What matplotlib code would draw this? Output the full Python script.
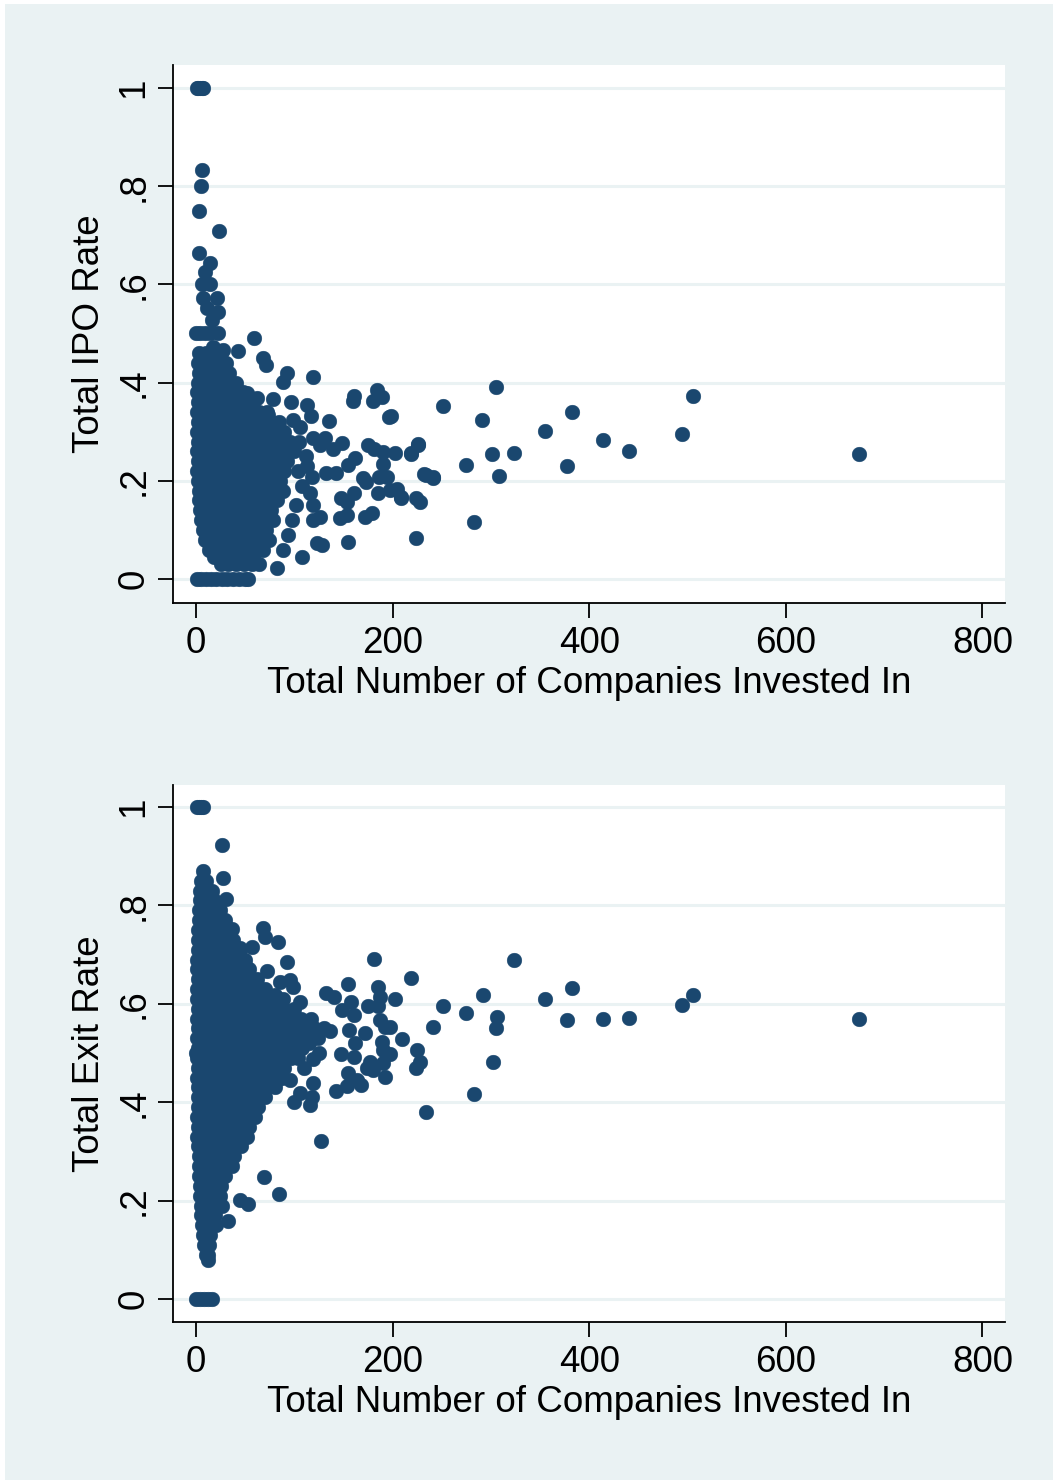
import numpy as np
import matplotlib
matplotlib.use("Agg")
import matplotlib.pyplot as plt
from matplotlib.patches import Rectangle

plt.rcParams['font.family'] = ['Liberation Sans', 'DejaVu Sans']

# ------------------------------
# data
# ------------------------------
# dense core of the IPO panel: (rate, [companies, ...])
ipo_rows = [
    (1.0, [1, 2, 4, 6, 7]),
    (0.5, [0, 4, 9, 14, 22]),
    (0.46, [3, 10, 18, 25]),
    (0.44, [2, 9, 16, 24, 31]),
    (0.42, [3, 10, 18, 26, 34]),
    (0.40, [2, 9, 16, 24, 33, 41]),
    (0.38, [1, 8, 15, 23, 31, 40, 48]),
    (0.36, [2, 9, 17, 25, 33, 41, 50, 58]),
    (0.34, [1, 8, 15, 22, 30, 38, 46, 55, 64, 72]),
    (0.32, [2, 9, 16, 24, 32, 40, 48, 57, 66, 75, 84]),
    (0.30, [1, 8, 15, 23, 31, 39, 47, 55, 63, 72, 81, 90]),
    (0.28, [2, 9, 17, 25, 33, 41, 49, 58, 67, 76, 86, 96]),
    (0.26, [1, 8, 15, 22, 30, 38, 46, 54, 62, 71, 80, 89]),
    (0.24, [2, 9, 16, 24, 32, 40, 48, 56, 65, 74, 83, 93]),
    (0.22, [1, 8, 15, 23, 31, 39, 47, 55, 63, 72, 81, 90]),
    (0.20, [2, 9, 17, 25, 33, 41, 49, 57, 66, 75, 85]),
    (0.18, [3, 10, 18, 26, 34, 42, 50, 58, 67, 76, 88]),
    (0.16, [3, 10, 17, 24, 32, 40, 48, 56, 64, 73, 82]),
    (0.14, [4, 11, 19, 27, 35, 43, 51, 59, 67, 76]),
    (0.12, [5, 12, 20, 28, 36, 44, 52, 60, 69, 78]),
    (0.10, [7, 14, 22, 30, 38, 46, 54, 62, 71]),
    (0.08, [9, 16, 24, 32, 40, 48, 56, 64, 74]),
    (0.06, [13, 20, 28, 36, 44, 52, 60, 68]),
    (0.045, [18, 26, 34, 42, 50, 58]),
    (0.03, [25, 33, 41, 49, 57, 64]),
    (0.0, [1, 5, 10, 15, 20, 26, 32, 38, 44, 50, 53]),
]

# scattered points of the IPO panel: (companies, rate)
ipo_pts = [
    (6, .833), (5, .800), (3, .749), (23, .709), (3, .664), (14, .644), (9, .625),
    (6, .601), (14, .601), (7, .572), (21, .572), (11, .552), (22, .544), (16, .527),
    (59, .491), (17, .473), (27, .466), (43, .464), (68, .450), (71, .436), (93, .420),
    (88, .401), (119, .411), (62, .369), (78, .367), (97, .360), (113, .354), (117, .332),
    (135, .322), (161, .373), (160, .363), (184, .385), (189, .371), (180, .363), (196, .330),
    (175, .273), (181, .265), (190, .259), (202, .257), (219, .255), (226, .275), (190, .234),
    (170, .206), (173, .198), (186, .208), (194, .208), (185, .175), (197, .181), (204, .183),
    (209, .165), (224, .165), (228, .157), (232, .214), (241, .206), (147, .165), (154, .157),
    (161, .175), (146, .124), (154, .130), (172, .126), (179, .134), (155, .075), (123, .073),
    (128, .069), (108, .045), (119, .120), (126, .126), (132, .216), (142, .216), (155, .232),
    (162, .246), (139, .265), (149, .277), (118, .208), (113, .230), (119, .287), (131, .287),
    (126, .273), (99, .324), (106, .310), (116, .175), (119, .151), (98, .120), (82, .022),
    (32, .389), (42, .381), (52, .379), (40, .340), (52, .335), (63, .330), (73, .334),
    (100, .26), (104, .22), (108, .19), (102, .15), (94, .09), (88, .06), (105, .28), (112, .25),
    (674, .255), (506, .373), (494, .295), (441, .261), (414, .283), (382, .340), (377, .230),
    (355, .301), (323, .257), (305, .391), (301, .255), (308, .210), (291, .324), (275, .232),
    (283, .116), (251, .352), (241, .208), (234, .212), (226, .273), (224, .083), (219, .257),
    (209, .167), (198, .332),
]

# dense core of the exit panel
exit_rows = [
    (1.0, [1, 3, 5, 7]),
    (0.87, [7]),
    (0.85, [5, 10]),
    (0.83, [4, 10, 16]),
    (0.81, [4, 11, 18]),
    (0.79, [3, 10, 17, 24]),
    (0.77, [3, 9, 16, 23, 29]),
    (0.75, [2, 9, 16, 24, 32]),
    (0.73, [2, 9, 16, 23, 30, 38]),
    (0.71, [2, 9, 16, 23, 30, 37, 45]),
    (0.69, [1, 8, 15, 22, 29, 36, 43, 50]),
    (0.67, [1, 8, 15, 22, 30, 38, 46, 54]),
    (0.65, [2, 9, 16, 23, 31, 39, 47, 55, 62]),
    (0.63, [1, 8, 15, 22, 30, 38, 46, 54, 62, 70]),
    (0.61, [1, 8, 15, 23, 31, 39, 47, 55, 63, 71, 80, 89]),
    (0.59, [2, 9, 16, 24, 32, 40, 48, 56, 64, 72, 81, 90, 100]),
    (0.57, [1, 8, 15, 23, 31, 39, 47, 55, 63, 71, 79, 88, 97, 107, 117]),
    (0.55, [2, 9, 16, 24, 32, 40, 48, 56, 64, 72, 80, 89, 98, 108, 120, 130]),
    (0.53, [1, 8, 15, 23, 31, 39, 47, 55, 63, 71, 79, 87, 96, 105, 114, 124]),
    (0.51, [2, 9, 16, 24, 32, 40, 48, 56, 64, 72, 80, 89, 98, 108]),
    (0.50, [0, 4, 8, 12, 16, 20]),
    (0.49, [1, 8, 15, 23, 31, 39, 47, 55, 63, 71, 79, 88, 97, 104]),
    (0.47, [2, 9, 16, 24, 32, 40, 48, 56, 64, 72, 81, 90]),
    (0.45, [1, 8, 15, 23, 31, 39, 47, 55, 63, 71, 79, 87]),
    (0.43, [2, 9, 16, 24, 32, 40, 48, 56, 64, 72, 80]),
    (0.41, [2, 9, 16, 23, 30, 38, 46, 54, 62, 70]),
    (0.39, [2, 9, 16, 23, 31, 39, 47, 55, 63]),
    (0.37, [1, 8, 15, 22, 29, 37, 45, 53, 60]),
    (0.35, [2, 9, 16, 23, 30, 38, 46, 54]),
    (0.33, [1, 8, 15, 22, 29, 37, 45, 52]),
    (0.31, [2, 9, 16, 23, 30, 38, 46]),
    (0.29, [3, 10, 17, 24, 31, 39]),
    (0.27, [3, 10, 17, 24, 31, 37]),
    (0.25, [3, 10, 17, 24, 30]),
    (0.23, [4, 11, 18, 25]),
    (0.21, [4, 11, 18, 24]),
    (0.19, [5, 12, 19, 26]),
    (0.17, [5, 12, 19]),
    (0.15, [6, 13, 20]),
    (0.13, [7, 14]),
    (0.11, [8, 13]),
    (0.09, [10, 12]),
    (0.08, [12]),
    (0.0, [0, 4, 8, 12, 16]),
]

exit_pts = [
    (674, .569), (506, .618), (494, .598), (441, .571), (414, .569), (382, .632), (377, .567),
    (355, .610), (323, .689), (306, .573), (305, .551), (302, .482), (292, .618), (283, .417),
    (275, .581), (251, .596), (241, .553), (234, .380), (219, .652), (202, .610), (210, .528),
    (225, .506), (228, .482), (224, .470), (181, .691), (155, .640), (185, .634), (187, .614),
    (185, .596), (175, .596), (158, .604), (149, .587), (132, .622), (140, .614), (161, .577),
    (156, .547), (172, .541), (162, .520), (161, .492), (187, .567), (192, .553), (197, .553),
    (189, .522), (190, .506), (197, .498), (147, .498), (177, .482), (174, .470), (192, .451),
    (180, .465), (190, .480), (155, .459), (164, .445), (168, .435), (142, .423), (154, .433),
    (136, .545), (119, .488), (106, .604), (127, .321), (84, .213), (69, .248), (53, .193),
    (45, .201), (33, .159), (26, .923), (27, .856), (31, .813), (68, .754), (70, .736),
    (83, .726), (93, .685), (72, .667), (57, .644), (85, .644), (96, .648), (99, .634),
    (65, .622), (80, .618), (116, .394), (119, .439), (118, .411), (106, .419), (96, .445),
    (37, .752), (57, .715), (45, .713), (115, .52), (125, .50), (110, .47), (100, .40),
]

xticks = [0, 200, 400, 600, 800]
yticks = [0, 0.2, 0.4, 0.6, 0.8, 1.0]
ytick_labels = ['0', '.2', '.4', '.6', '.8', '1']

navy = '#1a476f'
bg = '#eaf2f3'


def unpack(rows, pts):
    xs, ys = [], []
    for y, row in rows:
        xs += row
        ys += [y] * len(row)
    for x, y in pts:
        xs.append(x)
        ys.append(y)
    return np.array(xs, float), np.array(ys, float)


fig = plt.figure(figsize=(10.58, 14.84), dpi=100)
fig.patch.set_facecolor('white')
fig.add_artist(Rectangle((5 / 1058, 4 / 1484), 1048 / 1058, 1476 / 1484,
                         transform=fig.transFigure, facecolor=bg, edgecolor='none', zorder=-10))

panels = [
    ([173 / 1058, 1 - 603 / 1484, 832 / 1058, 538 / 1484], ipo_rows, ipo_pts,
     'Total IPO Rate', (-0.0489, 1.0468)),
    ([173 / 1058, 1 - 1322 / 1484, 832 / 1058, 537 / 1484], exit_rows, exit_pts,
     'Total Exit Rate', (-0.0467, 1.0447)),
]

for rect, rows, pts, ylabel, ylim in panels:
    ax = fig.add_axes(rect)
    ax.set_facecolor('white')
    x, y = unpack(rows, pts)
    ax.scatter(x, y, s=112, color=navy, edgecolors=navy, linewidths=0.3, zorder=3)
    ax.set_xlim(-23.4, 823)
    ax.set_ylim(*ylim)
    ax.set_xticks(xticks)
    ax.set_xticklabels([str(t) for t in xticks])
    ax.set_yticks(yticks)
    ax.set_yticklabels(ytick_labels, rotation=90, va='center')
    for t in yticks:
        ax.axhline(t, color=bg, lw=2.2, zorder=1)
    for s in ['top', 'right']:
        ax.spines[s].set_visible(False)
    for s in ['left', 'bottom']:
        ax.spines[s].set_linewidth(1.3)
    ax.tick_params(length=10.5, width=1.3, labelsize=26.5, direction='out')
    ax.tick_params(axis='y', pad=5)
    ax.tick_params(axis='x', pad=6)
    ax.set_ylabel(ylabel, fontsize=26.5, labelpad=7)
    ax.set_xlabel('Total Number of Companies Invested In', fontsize=26.5, labelpad=4)

plt.savefig('out.png', dpi=100, facecolor=fig.get_facecolor())
